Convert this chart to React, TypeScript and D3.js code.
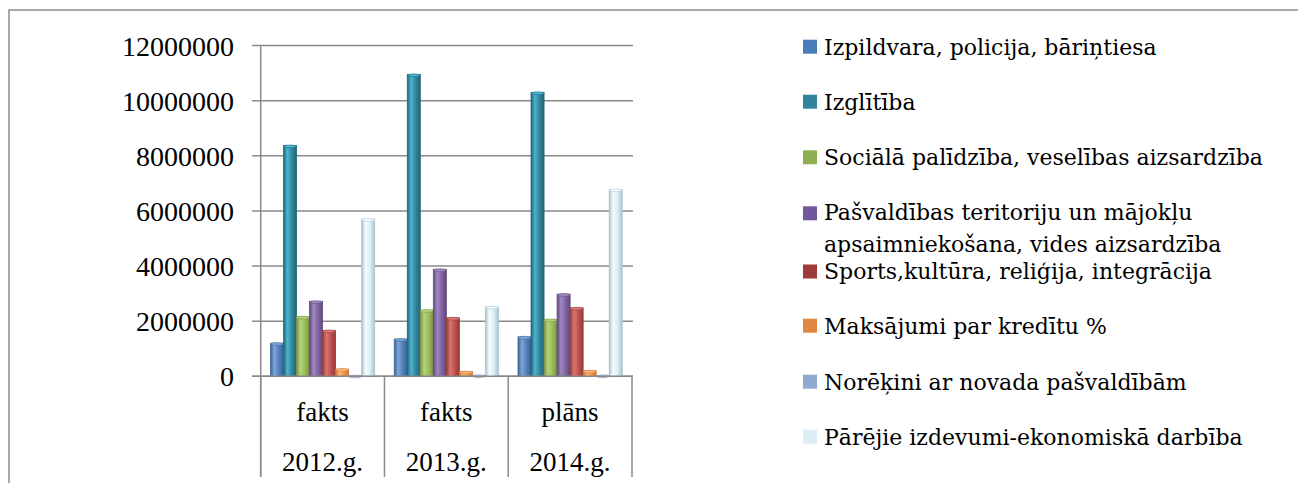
import React from "react";
import * as d3 from "d3";

const topLabels = ["fakts", "fakts", "plāns"];
const years = ["2012.g.", "2013.g.", "2014.g."];
const seriesNames = [
  "Izpildvara, policija, bāriņtiesa",
  "Izglītība",
  "Sociālā palīdzība, veselības aizsardzība",
  "Pašvaldības teritoriju un mājokļu apsaimniekošana, vides aizsardzība",
  "Sports,kultūra, reliģija, integrācija",
  "Maksājumi par kredītu %",
  "Norēķini ar novada pašvaldībām",
  "Pārējie izdevumi-ekonomiskā darbība",
];
const legendLines = [
  ["Izpildvara, policija, bāriņtiesa"],
  ["Izglītība"],
  ["Sociālā palīdzība, veselības aizsardzība"],
  ["Pašvaldības teritoriju un mājokļu", "apsaimniekošana, vides aizsardzība"],
  ["Sports,kultūra, reliģija, integrācija"],
  ["Maksājumi par kredītu %"],
  ["Norēķini ar novada pašvaldībām"],
  ["Pārējie izdevumi-ekonomiskā darbība"],
];
const values2012 = [1200000, 8370000, 2160000, 2720000, 1660000, 260000, 20000, 5700000];
const values2013 = [1350000, 10950000, 2400000, 3880000, 2120000, 170000, 30000, 2520000];
const values2014 = [1430000, 10300000, 2060000, 2980000, 2480000, 200000, 30000, 6780000];
const yTicks = [0, 2000000, 4000000, 6000000, 8000000, 10000000, 12000000];

const baseColors = ["#4F81BD", "#31859C", "#9BBB59", "#8064A2", "#C0504D", "#F79646", "#95B3D7", "#DBEEF4"];
const lightColors = ["#7FA6D6", "#4BB4CF", "#B7D27E", "#A088C2", "#D97572", "#FBB87A", "#B9CDE7", "#F6FCFE"];
const darkColors = ["#3A6494", "#236577", "#7A9544", "#5F4A7C", "#943C39", "#C87634", "#7690B3", "#A9C4CF"];
const legendColors = ["#4A7EBB", "#31849B", "#8FB052", "#72589A", "#9C3B38", "#E2873F", "#92A9D0", "#DAEEF3"];

export default function App() {
  const W = 1298, H = 483;
  const font = "'Liberation Serif', 'Times New Roman', serif";
  const lfont = "'DejaVu Serif', serif";
  const data = [values2012, values2013, values2014];
  const x0 = d3.scaleBand<number>().domain([0, 1, 2]).range([260.7, 632]).paddingInner(0).paddingOuter(0);
  const x1 = d3.scaleBand<number>().domain(d3.range(8)).range([0, x0.bandwidth()]).paddingInner(0).paddingOuter(0.75);
  const y = d3.scaleLinear().domain([0, 12000000]).range([376.3, 45.5]);
  const grid = "#8a8a8a";
  const legendY = [46.7, 101.7, 157.3, 212.5, 271.5, 325.7, 381.7, 436.7];
  const fmt = d3.format("d");

  return (
    <svg width={W} height={H} style={{ position: "absolute", left: 0, top: 0, background: "#fff" }}>
      <defs>
        {baseColors.map((c, i) => (
          <linearGradient key={i} id={`g${i}`} x1="0" x2="1" y1="0" y2="0">
            <stop offset="0" stopColor={darkColors[i]} />
            <stop offset="0.3" stopColor={lightColors[i]} />
            <stop offset="0.65" stopColor={c} />
            <stop offset="1" stopColor={darkColors[i]} />
          </linearGradient>
        ))}
      </defs>
      <rect x={0} y={0} width={W} height={H} fill="#fff" />
      <path d={`M9,${H + 2} L9,10 L${W + 2},10`} fill="none" stroke="#8c8c8c" strokeWidth={1.5} />
      {yTicks.map((t) => (
        <g key={t}>
          <line x1={252} x2={633} y1={y(t)} y2={y(t)} stroke={grid} strokeWidth={1.5} />
          <text x={234} y={y(t)} dy="0.36em" textAnchor="end" fontFamily={font} fontSize={28} fill="#000">
            {fmt(t)}
          </text>
        </g>
      ))}
      <line x1={260.7} x2={260.7} y1={y(12000000)} y2={477} stroke={grid} strokeWidth={1.5} />
      {[0, 1, 2, 3].map((i) => {
        const xx = i < 3 ? (x0(i) as number) : (x0(2) as number) + x0.bandwidth();
        return <line key={i} x1={xx} x2={xx} y1={376.3} y2={477} stroke={grid} strokeWidth={1.5} />;
      })}
      {data.map((vals, ci) => (
        <g key={ci} transform={`translate(${x0(ci)},0)`}>
          {vals.map((v, si) => {
            const bx = x1(si) as number;
            const bw = x1.bandwidth();
            const top = y(v);
            const h = y(0) - top;
            return (
              <g key={si}>
                <rect x={bx} y={top} width={bw} height={h} fill={`url(#g${si})`} stroke={darkColors[si]} strokeWidth={0.8} />
                <ellipse cx={bx + bw / 2} cy={top + 0.8} rx={bw / 2} ry={1.4} fill={lightColors[si]} stroke={darkColors[si]} strokeWidth={0.5} />
              </g>
            );
          })}
        </g>
      ))}
      <line x1={252} x2={633} y1={y(0)} y2={y(0)} stroke={grid} strokeWidth={1.5} />
      {topLabels.map((l, i) => (
        <g key={i}>
          <text x={(x0(i) as number) + x0.bandwidth() / 2} y={411.7} dy="0.35em" textAnchor="middle" fontFamily={font} fontSize={27}>
            {l}
          </text>
          <text x={(x0(i) as number) + x0.bandwidth() / 2} y={461.7} dy="0.35em" textAnchor="middle" fontFamily={font} fontSize={27}>
            {years[i]}
          </text>
        </g>
      ))}
      {seriesNames.map((n, i) => (
        <g key={n}>
          <rect x={803} y={(i === 3 ? 213.3 : legendY[i]) - 7} width={14} height={14} fill={legendColors[i]} />
          {legendLines[i].map((ln, j) => (
            <text key={j} x={824} y={legendY[i] + j * 32} dy="0.36em" fontFamily={lfont} fontSize={22} fill="#000">
              {ln}
            </text>
          ))}
        </g>
      ))}
    </svg>
  );
}
